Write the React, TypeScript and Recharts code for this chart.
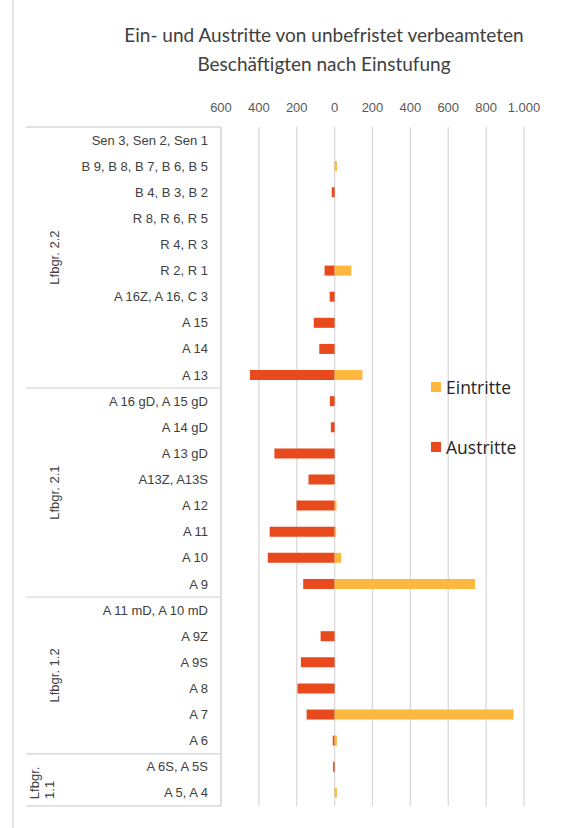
import { BarChart, Bar, XAxis, YAxis, CartesianGrid } from "recharts";

const categories = [
  "Sen 3, Sen 2, Sen 1", "B 9, B 8, B 7, B 6, B 5", "B 4, B 3, B 2", "R 8, R 6, R 5", "R 4, R 3",
  "R 2, R 1", "A 16Z, A 16, C 3", "A 15", "A 14", "A 13",
  "A 16 gD, A 15 gD", "A 14 gD", "A 13 gD", "A13Z, A13S", "A 12", "A 11", "A 10", "A 9",
  "A 11 mD, A 10 mD", "A 9Z", "A 9S", "A 8", "A 7", "A 6",
  "A 6S, A 5S", "A 5, A 4",
];
const eintritte = [0, 12, 0, 0, 0, 88, 0, 0, 0, 147, 0, 0, 0, 0, 10, 8, 35, 742, 0, 0, 0, 0, 945, 12, 0, 12];
const austritte = [0, 0, 15, 0, 0, 53, 26, 110, 81, 447, 25, 20, 318, 138, 201, 343, 353, 166, 0, 74, 178, 196, 148, 10, 8, 0];
const groups = [
  { label: ["Lfbgr. 2.2"], rows: 10 },
  { label: ["Lfbgr. 2.1"], rows: 8 },
  { label: ["Lfbgr. 1.2"], rows: 6 },
  { label: ["Lfbgr.", "1.1"], rows: 2 },
];
const ticks = [-600, -400, -200, 0, 200, 400, 600, 800, 1000];

const data = categories.map((name, i) => ({ name, eintritte: eintritte[i], austritte: -austritte[i] }));

const W = 562;
const H = 828;
const TOP = 127;
const X_AXIS_H = 30;
const BOTTOM = 22;
const LEFT = 13;
const AXIS_W = 208;
const BAND = (H - TOP - BOTTOM) / categories.length;
const FONT = "'Liberation Sans', Arial, sans-serif";
const GRID = "#d9d9d9";

const fmt = (v: number) => Math.abs(v).toLocaleString("de-DE");

function CatTick(props: any) {
  const { x, y, payload } = props;
  return (
    <text x={x} y={y} textAnchor="end" dominantBaseline="central" fontSize={13} fontFamily={FONT} fill="#404040">
      {payload.value}
    </text>
  );
}

function LegendBox() {
  return (
    <div style={{ position: "absolute", left: 431, top: 375, fontFamily: "'Open Sans', sans-serif", fontSize: 17.5, color: "#262626" }}>
      {[{ c: "#FFB83F", t: "Eintritte" }, { c: "#E84A1E", t: "Austritte" }].map((l, i) => (
        <div key={l.t} style={{ display: "flex", alignItems: "center", height: 24, marginTop: i ? 36 : 0 }}>
          <div style={{ width: 10, height: 10, background: l.c, marginRight: 5 }} />
          <span>{l.t}</span>
        </div>
      ))}
    </div>
  );
}

// table lines and rotated group names at the left
function GroupTable() {
  let start = 0;
  const bounds = [TOP];
  groups.forEach((g) => {
    start += g.rows;
    bounds.push(TOP + start * BAND);
  });
  const right = LEFT + AXIS_W;
  return (
    <svg width={W} height={H} style={{ position: "absolute", left: 0, top: 0, pointerEvents: "none" }}>
      <line x1={13} x2={13} y1={0} y2={H} stroke={GRID} strokeWidth={1.3} />
      <line x1={right} x2={right} y1={TOP} y2={H - BOTTOM} stroke={GRID} strokeWidth={1.3} />
      {bounds.map((b, i) => (
        <line key={i} x1={26} x2={right} y1={b} y2={b} stroke={GRID} strokeWidth={1.3} />
      ))}
      {groups.map((g, i) => {
        const cy = (bounds[i] + bounds[i + 1]) / 2;
        if (g.label.length === 1) {
          return (
            <text key={i} transform={`translate(54,${cy}) rotate(-90)`} textAnchor="middle" dominantBaseline="central"
              fontSize={13} fontFamily={FONT} fill="#404040">
              {g.label[0]}
            </text>
          );
        }
        return (
          <g key={i}>
            <text transform={`translate(34,${cy + 3}) rotate(-90)`} textAnchor="middle" dominantBaseline="central"
              fontSize={13} fontFamily={FONT} fill="#404040">{g.label[0]}</text>
            <text transform={`translate(49,${cy + 10}) rotate(-90)`} textAnchor="middle" dominantBaseline="central"
              fontSize={13} fontFamily={FONT} fill="#404040">{g.label[1]}</text>
          </g>
        );
      })}
    </svg>
  );
}

export default function App() {
  return (
    <div style={{ position: "absolute", left: 0, top: 0, width: W, height: H, background: "#fff" }}>
      <div style={{ position: "absolute", left: 0, width: 648, top: 20, textAlign: "center", fontFamily: "Lato, sans-serif",
        fontSize: 19, lineHeight: "29px", color: "#404040" }}>
        Ein- und Austritte von unbefristet verbeamteten<br />Beschäftigten nach Einstufung
      </div>
      <BarChart width={W} height={H} data={data} layout="vertical" stackOffset="sign" barSize={10}
        margin={{ top: TOP - X_AXIS_H, right: 38, bottom: BOTTOM, left: LEFT }}>
        <CartesianGrid horizontal={false} stroke={GRID} strokeWidth={1.3} />
        <XAxis type="number" orientation="top" domain={[-600, 1000]} ticks={ticks} tickFormatter={fmt}
          axisLine={false} tickLine={false} tickSize={0} tickMargin={15} height={X_AXIS_H} interval={0}
          tick={{ fontSize: 13, fill: "#595959", fontFamily: FONT }} />
        <YAxis type="category" dataKey="name" width={AXIS_W} axisLine={false} tickLine={false} tickSize={0}
          tickMargin={13} interval={0} tick={<CatTick />} />
        <Bar dataKey="austritte" name="Austritte" stackId="a" fill="#E84A1E" isAnimationActive={false} />
        <Bar dataKey="eintritte" name="Eintritte" stackId="a" fill="#FFB83F" isAnimationActive={false} />
      </BarChart>
      <LegendBox />
      <GroupTable />
    </div>
  );
}
